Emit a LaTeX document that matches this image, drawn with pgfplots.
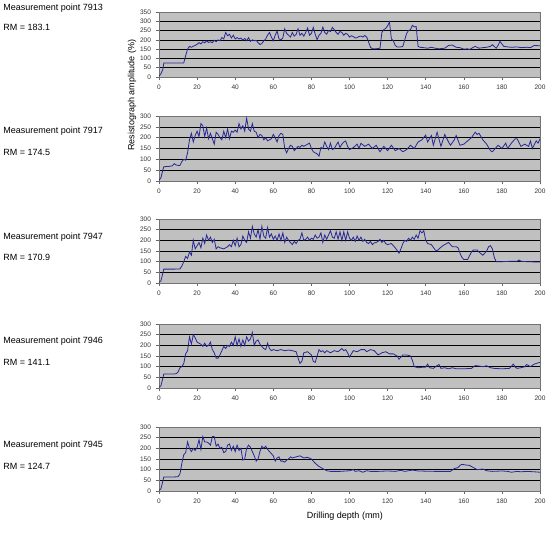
\documentclass[border=0pt]{standalone}
\usepackage{pgfplots}
\pgfplotsset{compat=1.18}
\usepackage{fontspec}
\setmainfont{Liberation Sans}
\definecolor{plotgray}{HTML}{C0C0C0}
\definecolor{navyline}{RGB}{40,40,150}
\pgfplotsset{panel/.style={
  scale only axis, width=285.75pt,
  xmin=0, xmax=200, ymin=0,
  xtick={0,20,...,200},
  axis background/.style={fill=plotgray},
  axis line style={draw=black!55, line width=0.5pt},
  ymajorgrids, major grid style={black, line width=0.4pt},
  tick style={black!60, line width=0.4pt}, tick align=outside, major tick length=2.5pt,
  xtick pos=bottom, ytick pos=left,
  ticklabel style={font=\fontsize{4.9pt}{5pt}\selectfont, text=black!80},
  /pgf/number format/assume math mode=true,
  no markers,
  cycle list={{navyline, line width=0.6pt, mark=none}},
  anchor=south west,
}}
\newcommand{\lbl}{\fontsize{6.75pt}{8pt}\selectfont}
\begin{document}
\begin{tikzpicture}
\useasboundingbox (0,0) rectangle (412.5pt,-401.25pt);
% ---------- Panel 1 ----------
\begin{axis}[panel, at={(119.25pt,-57.75pt)}, height=48.75pt, ymax=350, ytick={0,50,...,350}]
\addplot[navyline, line width=0.6pt, mark=none] coordinates {(0,3)(1,18)(2,40)(2.5,75)(5,75)(8,75)(11,75)(13,76)(14,115)(15,150)(16,165)(17,160)(18,166)(19,170)(20,176)(21,185)(22,178)(23,190)(24,184)(25,195)(26,186)(27,190)(28,185)(29,198)(30,190)(31,200)(32,195)(33,212)(34,205)(35,240)(36,222)(37,230)(38,210)(39,225)(40,205)(41,212)(42,205)(43,210)(44,198)(45,208)(46,195)(47,212)(48,192)(49,200)(50,195)(51,198)(52,185)(53,175)(54,180)(55,195)(56,205)(57,225)(58,240)(59,215)(60,195)(61,225)(62,248)(63,205)(64,200)(65,210)(66,260)(67,235)(68,225)(69,215)(70,240)(71,220)(72,230)(73,260)(74,225)(75,235)(76,220)(77,240)(78,264)(79,225)(80,235)(81,267)(82,230)(83,201)(84,225)(85,235)(86,269)(87,240)(88,230)(89,250)(90,245)(91,267)(92,255)(93,240)(94,230)(95,245)(96,240)(97,225)(98,235)(99,230)(100,215)(101,222)(102,218)(103,210)(104,212)(105,218)(106,220)(107,215)(108,224)(109,215)(110,190)(111,160)(112,152)(114,152)(116,155)(117,240)(118,255)(119,262)(120,275)(121,296)(122,205)(123,195)(124,170)(125,162)(127,162)(128,165)(129,200)(130,235)(131,250)(132,255)(133,278)(134,270)(135,272)(136,165)(137,160)(139,158)(141,155)(143,160)(145,155)(147,152)(150,155)(152,170)(154,172)(156,160)(158,158)(160,150)(162,152)(163,148)(165,160)(166,165)(168,155)(170,158)(172,160)(174,165)(175,174)(177,155)(178,170)(179,192)(180,178)(181,165)(183,162)(185,160)(188,162)(190,158)(193,160)(195,158)(197,170)(200,168)};
\end{axis}
% ---------- Panel 2 ----------
\begin{axis}[panel, at={(119.25pt,-135.75pt)}, height=48.75pt, ymax=300, ytick={0,50,...,300}]
\addplot[navyline, line width=0.6pt, mark=none] coordinates {(0,3)(1,15)(2,50)(2.5,66)(5,67)(7,70)(8,80)(9,74)(10,72)(11,72)(12,90)(13,100)(14,96)(15,130)(16,190)(17,220)(18,180)(19,210)(20,230)(21,205)(22,265)(23,255)(24,205)(25,245)(26,195)(27,220)(28,195)(29,170)(30,225)(31,215)(32,200)(33,190)(34,230)(35,200)(36,240)(37,195)(38,230)(39,225)(40,235)(41,225)(42,265)(43,240)(44,255)(45,230)(46,290)(47,240)(48,230)(49,265)(50,230)(51,225)(52,200)(53,215)(54,210)(55,190)(56,200)(57,185)(58,190)(59,195)(60,215)(61,200)(62,180)(63,210)(64,220)(65,215)(66,150)(67,130)(68,150)(69,165)(70,160)(71,140)(72,150)(73,160)(74,155)(75,165)(76,160)(77,165)(78,170)(79,175)(80,150)(81,135)(82,130)(83,125)(84,115)(85,155)(86,150)(87,180)(88,160)(89,145)(90,175)(91,145)(92,150)(93,165)(94,180)(95,155)(96,170)(97,180)(98,185)(99,160)(100,145)(102,154)(104,170)(105,150)(106,174)(108,160)(110,170)(112,150)(114,165)(116,135)(118,160)(120,140)(122,165)(124,140)(126,150)(128,135)(130,145)(132,165)(134,150)(136,180)(138,190)(140,212)(141,180)(143,210)(144,165)(146,225)(148,160)(150,215)(152,180)(153,165)(155,190)(156,210)(158,165)(160,170)(162,185)(164,200)(166,225)(167,215)(168,220)(170,190)(172,170)(174,140)(175,135)(176,145)(178,165)(180,150)(182,175)(183,150)(185,175)(186,185)(187,195)(188,195)(190,160)(192,170)(194,160)(195,185)(196,150)(198,185)(199,175)(200,195)};
\end{axis}
% ---------- Panel 3 ----------
\begin{axis}[panel, at={(119.25pt,-212.25pt)}, height=48pt, ymax=300, ytick={0,50,...,300}]
\addplot[navyline, line width=0.6pt, mark=none] coordinates {(0,3)(1,10)(2,45)(2.5,65)(5,65)(8,65)(11,66)(12,80)(13,100)(14,125)(15,115)(16,145)(17,130)(18,200)(19,160)(20,175)(21,190)(22,165)(23,210)(24,185)(25,225)(26,200)(27,215)(28,190)(29,205)(30,160)(31,170)(32,165)(34,160)(36,170)(37,180)(38,170)(39,200)(40,175)(41,210)(42,170)(43,180)(44,220)(45,200)(46,190)(47,240)(48,210)(49,265)(50,230)(51,215)(52,250)(53,205)(54,265)(55,220)(56,210)(57,260)(58,215)(59,230)(60,205)(61,220)(62,200)(63,230)(64,200)(65,235)(66,190)(67,215)(68,200)(69,190)(70,180)(71,195)(72,185)(73,200)(74,205)(75,235)(76,200)(77,205)(78,215)(79,200)(80,210)(81,205)(82,225)(83,210)(84,215)(85,235)(86,190)(87,225)(88,205)(89,225)(90,245)(91,215)(92,210)(93,240)(94,205)(95,240)(96,200)(97,240)(98,200)(99,240)(100,210)(101,200)(102,215)(103,195)(104,220)(105,200)(106,215)(107,195)(108,205)(109,190)(110,185)(111,195)(112,180)(113,188)(114,190)(115,195)(116,205)(117,190)(118,200)(119,185)(120,180)(122,185)(124,165)(126,140)(127,160)(128,185)(129,200)(130,195)(131,210)(132,200)(133,215)(134,205)(135,225)(136,210)(137,245)(138,235)(139,245)(140,200)(141,185)(143,180)(145,155)(146,150)(147,160)(149,175)(151,185)(152,190)(153,180)(154,170)(156,170)(157,165)(158,140)(159,120)(160,110)(162,110)(164,145)(165,155)(167,155)(168,145)(170,130)(172,150)(173,170)(174,175)(175,160)(176,120)(177,100)(178,100)(180,100)(185,102)(188,102)(189,108)(190,102)(193,100)(200,98)};
\end{axis}
% ---------- Panel 4 ----------
\begin{axis}[panel, at={(119.25pt,-291pt)}, height=48pt, ymax=300, ytick={0,50,...,300}]
\addplot[navyline, line width=0.6pt, mark=none] coordinates {(0,3)(1,10)(2,45)(2.5,66)(5,66)(8,66)(9,67)(10,75)(11,95)(12,100)(13,115)(14,160)(15,175)(16,240)(17,205)(18,250)(19,235)(20,215)(21,210)(22,205)(23,195)(24,210)(25,195)(26,200)(27,215)(28,180)(29,165)(30,140)(31,140)(32,155)(33,175)(34,195)(35,185)(36,200)(37,195)(38,215)(39,200)(40,240)(41,200)(42,230)(43,195)(44,225)(45,200)(46,240)(47,220)(48,230)(49,260)(50,200)(51,220)(52,225)(53,205)(54,195)(55,185)(56,180)(57,210)(58,185)(59,175)(60,180)(62,175)(64,180)(66,175)(68,178)(70,175)(72,170)(73,140)(74,115)(75,125)(76,165)(78,170)(80,155)(81,125)(82,120)(83,150)(84,180)(85,170)(86,175)(87,165)(88,175)(90,165)(92,175)(94,170)(96,185)(97,175)(98,180)(99,165)(100,145)(102,175)(104,170)(106,180)(108,180)(109,170)(111,180)(113,175)(115,155)(117,165)(119,170)(121,160)(123,160)(125,150)(126,135)(128,155)(130,155)(132,150)(133,130)(134,100)(136,95)(138,97)(140,98)(141,112)(142,95)(144,92)(146,105)(147,110)(148,92)(150,95)(152,90)(154,95)(156,90)(160,90)(164,92)(166,105)(168,103)(170,100)(172,104)(174,95)(176,92)(180,90)(184,92)(186,112)(187,98)(188,92)(190,95)(192,100)(193,110)(195,100)(197,112)(199,118)(200,120)};
\end{axis}
% ---------- Panel 5 ----------
\begin{axis}[panel, at={(119.25pt,-368.25pt)}, height=48pt, ymax=300, ytick={0,50,...,300}]
\addplot[navyline, line width=0.6pt, mark=none] coordinates {(0,3)(1,10)(2,45)(2.5,66)(5,66)(8,66)(10,67)(11,80)(12,130)(13,170)(14,180)(15,230)(16,200)(17,185)(18,200)(19,190)(20,205)(21,240)(22,195)(23,255)(24,230)(25,230)(26,225)(27,215)(28,255)(29,255)(30,210)(31,220)(32,200)(33,205)(34,180)(35,185)(36,215)(37,220)(38,190)(39,210)(40,185)(41,215)(42,190)(43,200)(44,145)(45,150)(46,200)(47,215)(48,205)(49,185)(50,165)(51,140)(52,150)(53,185)(54,210)(55,200)(56,210)(57,195)(58,185)(59,175)(60,165)(61,140)(62,155)(63,160)(64,140)(65,140)(66,135)(67,145)(68,150)(69,160)(70,155)(72,160)(74,165)(76,155)(78,158)(80,150)(82,130)(84,115)(86,105)(88,95)(90,92)(95,92)(100,95)(102,100)(103,92)(105,95)(107,88)(109,95)(111,92)(115,92)(120,94)(124,92)(127,97)(129,92)(133,98)(136,94)(140,93)(145,92)(150,92)(153,92)(155,105)(157,110)(158,120)(159,125)(161,122)(163,120)(165,110)(167,100)(170,103)(172,95)(175,92)(180,94)(183,92)(185,88)(188,92)(190,90)(193,92)(197,90)(200,88)};
\end{axis}
% ---------- Texts ----------
\node[anchor=west, inner sep=0pt] at (2.25pt,-6pt) {\lbl Measurement point 7913};
\node[anchor=west, inner sep=0pt] at (2.25pt,-20.25pt) {\lbl RM = 183.1};
\node[anchor=west, inner sep=0pt] at (2.25pt,-98.25pt) {\lbl Measurement point 7917};
\node[anchor=west, inner sep=0pt] at (2.25pt,-114pt) {\lbl RM = 174.5};
\node[anchor=west, inner sep=0pt] at (2.25pt,-177.75pt) {\lbl Measurement point 7947};
\node[anchor=west, inner sep=0pt] at (2.25pt,-192.75pt) {\lbl RM = 170.9};
\node[anchor=west, inner sep=0pt] at (2.25pt,-255.75pt) {\lbl Measurement point 7946};
\node[anchor=west, inner sep=0pt] at (2.25pt,-271.5pt) {\lbl RM = 141.1};
\node[anchor=west, inner sep=0pt] at (2.25pt,-333.75pt) {\lbl Measurement point 7945};
\node[anchor=west, inner sep=0pt] at (2.25pt,-349.5pt) {\lbl RM = 124.7};
\node[rotate=90, inner sep=0pt] at (99pt,-71.25pt) {\lbl Resistograph amplitude (\%)};
\node[inner sep=0pt] at (258.75pt,-387pt) {\lbl Drilling depth (mm)};
\end{tikzpicture}
\end{document}
